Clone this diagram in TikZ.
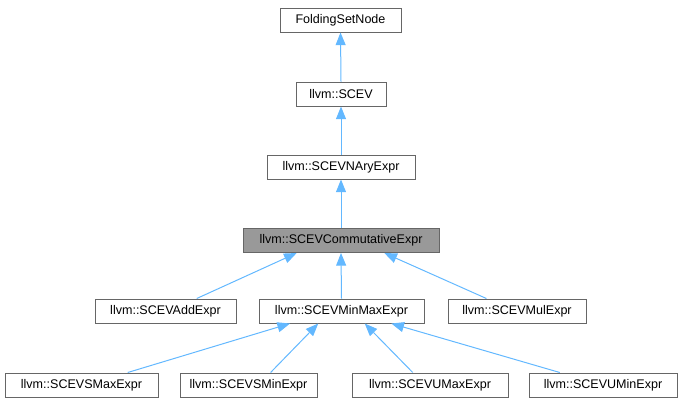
\documentclass[tikz,border=0pt]{standalone}
\usepackage{fontspec}
\setmainfont{Liberation Sans}
\usetikzlibrary{arrows.meta,calc}
\definecolor{edgeblue}{HTML}{63B8FF}
\definecolor{boxline}{HTML}{666666}
\definecolor{boxfill}{HTML}{999999}
\tikzset{
  cls/.style={draw=boxline, fill=white, line width=0.75pt, inner sep=0pt, minimum height=18pt, font=\fontsize{9.4pt}{11pt}\selectfont, text=black},
  hl/.style={cls, fill=boxfill},
  edge/.style={draw=edgeblue, line width=0.75pt, -{Triangle[length=9.5pt,width=7.5pt]}}
}
\begin{document}
\begin{tikzpicture}[x=0.75pt,y=-0.75pt]
\useasboundingbox (0,0) rectangle (682,405);
\node[cls, minimum width=90.75pt] (fsn) at (340.5,20) {FoldingSetNode};
\node[cls, minimum width=67.5pt] (scev) at (341,94) {llvm::SCEV};
\node[cls, minimum width=111pt] (nary) at (341,167) {llvm::SCEVNAryExpr};
\node[hl, minimum width=147pt] (comm) at (341,240.5) {llvm::SCEVCommutativeExpr};
\node[cls, minimum width=105.75pt] (add) at (165.5,311) {llvm::SCEVAddExpr};
\node[cls, minimum width=123.75pt] (mm) at (341.5,311) {llvm::SCEVMinMaxExpr};
\node[cls, minimum width=103.5pt] (mul) at (517,311) {llvm::SCEVMulExpr};
\node[cls, minimum width=114.75pt] (smax) at (81.5,385) {llvm::SCEVSMaxExpr};
\node[cls, minimum width=102.75pt] (smin) at (248.5,385) {llvm::SCEVSMinExpr};
\node[cls, minimum width=117pt] (umax) at (430,385) {llvm::SCEVUMaxExpr};
\node[cls, minimum width=111pt] (umin) at (603,385) {llvm::SCEVUMinExpr};
\draw[edge] (scev.north) -- (fsn.south);
\draw[edge] (nary.north) -- (scev.south);
\draw[edge] (comm.north) -- (nary.south);
\draw[edge] ($(add.north west)!0.72!(add.north east)$) -- ($(comm.south west)!0.275!(comm.south east)$);
\draw[edge] (mm.north) -- (comm.south);
\draw[edge] ($(mul.north west)!0.28!(mul.north east)$) -- ($(comm.south west)!0.72!(comm.south east)$);
\draw[edge] ($(smax.north west)!0.8!(smax.north east)$) -- ($(mm.south west)!0.19!(mm.south east)$);
\draw[edge] ($(smin.north west)!0.66!(smin.north east)$) -- ($(mm.south west)!0.36!(mm.south east)$);
\draw[edge] ($(umax.north west)!0.39!(umax.north east)$) -- ($(mm.south west)!0.64!(mm.south east)$);
\draw[edge] ($(umin.north west)!0.21!(umin.north east)$) -- ($(mm.south west)!0.8!(mm.south east)$);
\end{tikzpicture}
\end{document}
